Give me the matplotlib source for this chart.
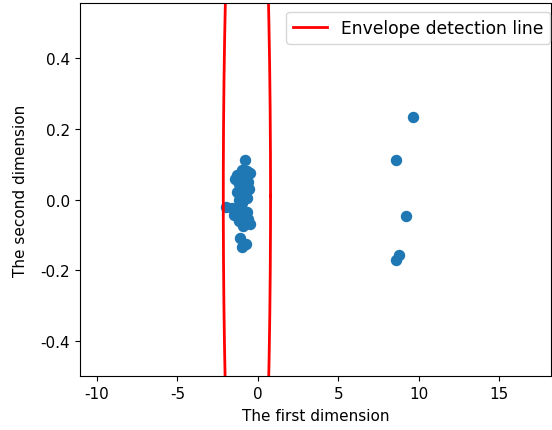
import numpy as np
import matplotlib.pyplot as plt

plt.rcParams['axes.unicode_minus'] = False

# 主簇数据点
cluster_x = [-0.8, -1.0, -0.7, -1.3, -0.5, -1.4, -0.9, -0.6, -1.2, -0.8,
             -1.1, -0.55, -1.3, -0.9, -0.7, -1.2, -1.0, -1.95, -1.6, -1.3,
             -0.7, -1.5, -1.0, -0.6, -1.2, -0.5, -0.9, -1.1, -0.75, -1.0]
cluster_y = [0.112, 0.085, 0.08, 0.07, 0.075, 0.058, 0.06, 0.05, 0.045, 0.035,
             0.03, 0.03, 0.02, 0.015, 0.005, 0.0, -0.01, -0.022, -0.025, -0.03,
             -0.035, -0.045, -0.05, -0.055, -0.06, -0.07, -0.075, -0.11, -0.125, -0.135]
# 离群点
outlier_x = [9.63, 8.57, 9.19, 8.76, 8.57]
outlier_y = [0.233, 0.111, -0.046, -0.156, -0.171]

# 包络椭圆参数
center = (-0.68, 0.01)
semi_x, semi_y = 1.47, 1.34

fig = plt.figure(figsize=(5.52, 4.31), dpi=100)
ax = fig.add_axes([80 / 552, 1 - 377 / 431, 471 / 552, 373 / 431])

xs = cluster_x + outlier_x
ys = cluster_y + outlier_y
ax.scatter(xs, ys, s=52, color='#1f77b4')

t = np.linspace(0, 2 * np.pi, 400)
ax.plot(center[0] + semi_x * np.cos(t), center[1] + semi_y * np.sin(t),
        color='red', linewidth=2, label='Envelope detection line')

ax.set_xlim(-11.06, 18.23)
ax.set_ylim(-0.5, 0.557)
ax.set_xticks([-10, -5, 0, 5, 10, 15])
ax.set_yticks([-0.4, -0.2, 0.0, 0.2, 0.4])
ax.tick_params(labelsize=11)
ax.set_xlabel('The first dimension', fontsize=11, labelpad=5)
ax.set_ylabel('The second dimension', fontsize=11)
ax.yaxis.set_label_coords(-52 / 471, 0.5)

ax.legend(loc='upper right', fontsize=12.3,
          bbox_to_anchor=(550 / 552, 1 - 13 / 431), bbox_transform=fig.transFigure,
          borderaxespad=0)

plt.savefig('out.png', dpi=100)
